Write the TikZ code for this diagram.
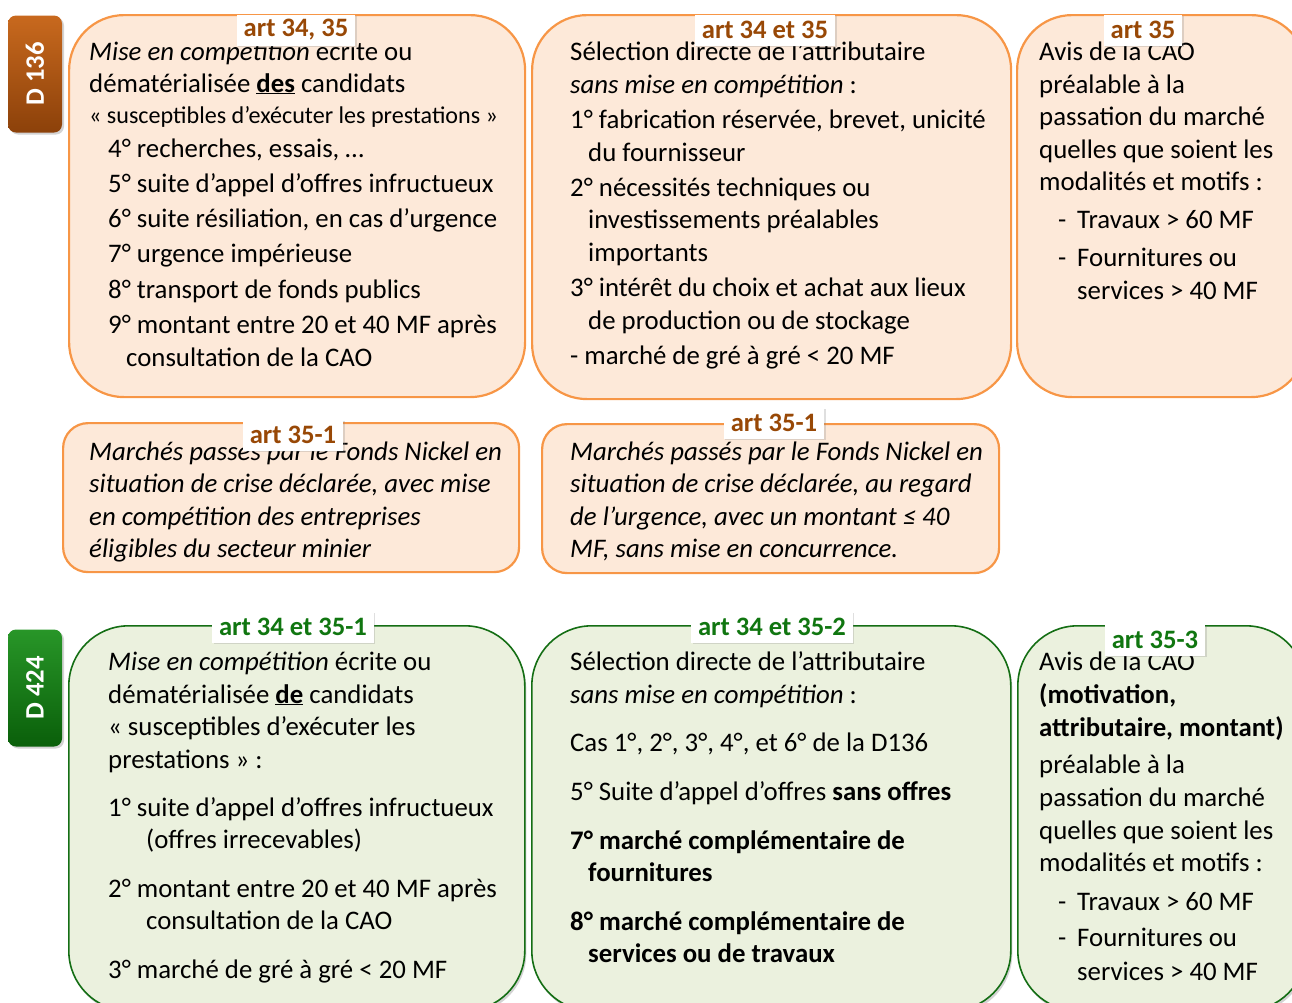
\documentclass[tikz,border=0pt]{standalone}
\usepackage{fontspec}
\setmainfont{Carlito}
\usetikzlibrary{shadows}
\definecolor{ocol}{RGB}{247,150,70}
\definecolor{ofill}{RGB}{253,233,217}
\definecolor{obrown}{RGB}{152,72,6}
\definecolor{gcol}{RGB}{20,110,20}
\definecolor{gfill}{RGB}{235,241,222}
\definecolor{gtxt}{RGB}{16,118,16}
\definecolor{tabbrA}{RGB}{200,105,30}
\definecolor{tabbrB}{RGB}{140,65,10}
\definecolor{tabgrA}{RGB}{40,150,40}
\definecolor{tabgrB}{RGB}{10,95,10}
\newcommand\bodyfs{\fontsize{26.8}{31}\selectfont}
\newcommand\smallfs{\fontsize{24.1}{28}\selectfont}
\newcommand\labfs{\fontsize{26.6}{30}\selectfont\bfseries}
\tikzset{
  obox/.style={draw=ocol, fill=ofill, line width=2.2pt, anchor=north west, inner sep=0pt},
  gbox/.style={draw=gcol, fill=gfill, line width=1.6pt, anchor=north west, inner sep=0pt,
     drop shadow={opacity=0.35, shadow xshift=1.5pt, shadow yshift=-3pt}},
  lab/.style={fill=white, inner xsep=7pt, inner ysep=0pt, minimum height=31pt, font=\labfs,
     drop shadow={opacity=0.25, shadow xshift=1.5pt, shadow yshift=-1.5pt}},
  olab/.style={lab, text=obrown},
  glab/.style={lab, text=gtxt},
  tl/.style={anchor=base west, inner sep=0pt, font=\bodyfs},
  tabbox/.style={rotate=90, rounded corners=8pt, text=white, font=\labfs,
     minimum width=117pt, minimum height=54pt, inner sep=0pt,
     drop shadow={opacity=0.35, shadow xshift=2pt, shadow yshift=-2pt}}
}
\begin{document}
\begin{tikzpicture}[x=1pt,y=-1pt]
\path[use as bounding box] (0,0) rectangle (1292,1002);
\clip (0,0) rectangle (1292,1002);

% tabs
\node[tabbox, top color=tabbrA, bottom color=tabbrB, shading angle=0] (d136) at (35,74) {D 136};
\node[tabbox, top color=tabgrA, bottom color=tabgrB] (d424) at (35,688) {D 424};

% top row
\node[obox, rounded corners=55pt, minimum width=456pt, minimum height=382pt] (A) at (68,14) {};
\node[obox, rounded corners=55pt, minimum width=479pt, minimum height=384pt] (B) at (531,14) {};
\node[obox, rounded corners=55pt, minimum width=289pt, minimum height=382pt] (C) at (1016,14) {};
% middle row
\node[obox, rounded corners=25pt, minimum width=456pt, minimum height=149pt] (D) at (62,422) {};
\node[obox, rounded corners=25pt, minimum width=457pt, minimum height=149pt] (E) at (541,423) {};
% bottom row
\node[gbox, rounded corners=60pt, minimum width=456pt, minimum height=385pt] (F) at (68,625) {};
\node[gbox, rounded corners=60pt, minimum width=479pt, minimum height=385pt] (G) at (531,625) {};
\node[gbox, rounded corners=60pt, minimum width=288pt, minimum height=385pt] (H) at (1017,625) {};

% Box A text
\node[tl] (a1) at (89,60) {\textit{Mise en compétition} écrite ou};
\node[tl] (a2) at (89,92) {dématérialisée \underline{\textbf{des}} candidats};
\node[tl, font=\smallfs] (a3) at (89,123) {« susceptibles d’exécuter les prestations »};
\node[tl] (a4) at (108,157) {4° recherches, essais, …};
\node[tl] (a5) at (108,192) {5° suite d’appel d’offres infructueux};
\node[tl] (a6) at (108,227) {6° suite résiliation, en cas d’urgence};
\node[tl] (a7) at (108,262) {7° urgence impérieuse};
\node[tl] (a8) at (108,298) {8° transport de fonds publics};
\node[tl] (a9) at (108,333) {9° montant entre 20 et 40 MF après};
\node[tl] (a10) at (126,366) {consultation de la CAO};

% Box B text
\node[tl] (b1) at (570,60) {Sélection directe de l’attributaire};
\node[tl] (b2) at (570,93) {\textit{sans mise en compétition} :};
\node[tl] (b3) at (570,128) {1° fabrication réservée, brevet, unicité};
\node[tl] (b4) at (588,161) {du fournisseur};
\node[tl] (b5) at (570,196) {2° nécessités techniques ou};
\node[tl] (b6) at (588,228) {investissements préalables};
\node[tl] (b7) at (588,261) {importants};
\node[tl] (b8) at (570,296) {3° intérêt du choix et achat aux lieux};
\node[tl] (b9) at (588,329) {de production ou de stockage};
\node[tl] (b10) at (570,364) {- marché de gré à gré < 20 MF};

% Box C text
\node[tl] (c1) at (1039,60) {Avis de la CAO};
\node[tl] (c2) at (1039,93) {préalable à la};
\node[tl] (c3) at (1039,125) {passation du marché};
\node[tl] (c4) at (1039,158) {quelles que soient les};
\node[tl] (c5) at (1039,190) {modalités et motifs :};
\node[tl] (c6) at (1058,228) {-};
\node[tl] (c7) at (1077,228) {Travaux > 60 MF};
\node[tl] (c8) at (1058,266) {-};
\node[tl] (c9) at (1077,266) {Fournitures ou};
\node[tl] (c10) at (1077,299) {services > 40 MF};

% Box D text
\node[tl] (d1) at (89,460) {\itshape Marchés passés par le Fonds Nickel en};
\node[tl] (d2) at (89,492) {\itshape situation de crise déclarée, avec mise};
\node[tl] (d3) at (89,525) {\itshape en compétition des entreprises};
\node[tl] (d4) at (89,557) {\itshape éligibles du secteur minier};

% Box E text
\node[tl] (e1) at (570,460) {\itshape Marchés passés par le Fonds Nickel en};
\node[tl] (e2) at (570,492) {\itshape situation de crise déclarée, au regard};
\node[tl] (e3) at (570,525) {\itshape de l’urgence, avec un montant ≤ 40};
\node[tl] (e4) at (570,557) {\itshape MF, sans mise en concurrence.};

% Box F text
\node[tl] (f1) at (108,670) {\textit{Mise en compétition} écrite ou};
\node[tl] (f2) at (108,703) {dématérialisée \underline{\textbf{de}} candidats};
\node[tl] (f3) at (108,735) {« susceptibles d’exécuter les};
\node[tl] (f4) at (108,768) {prestations » :};
\node[tl] (f5) at (108,816) {1° suite d’appel d’offres infructueux};
\node[tl] (f6) at (146,848) {(offres irrecevables)};
\node[tl] (f7) at (108,897) {2° montant entre 20 et 40 MF après};
\node[tl] (f8) at (146,929) {consultation de la CAO};
\node[tl] (f9) at (108,978) {3° marché de gré à gré < 20 MF};

% Box G text
\node[tl] (g1) at (570,670) {Sélection directe de l’attributaire};
\node[tl] (g2) at (570,703) {\textit{sans mise en compétition} :};
\node[tl] (g3) at (570,751) {Cas 1°, 2°, 3°, 4°, et 6° de la D136};
\node[tl] (g4) at (570,800) {5° Suite d’appel d’offres \textbf{sans offres}};
\node[tl] (g5) at (570,849) {\bfseries 7° marché complémentaire de};
\node[tl] (g6) at (588,881) {\bfseries fournitures};
\node[tl] (g7) at (570,930) {\bfseries 8° marché complémentaire de};
\node[tl] (g8) at (588,962) {\bfseries services ou de travaux};

% Box H text
\node[tl] (h1) at (1039,670) {Avis de la CAO};
\node[tl] (h2) at (1039,703) {\bfseries (motivation,};
\node[tl] (h3) at (1039,736) {\bfseries attributaire, montant)};
\node[tl] (h4) at (1039,773) {préalable à la};
\node[tl] (h5) at (1039,806) {passation du marché};
\node[tl] (h6) at (1039,839) {quelles que soient les};
\node[tl] (h7) at (1039,871) {modalités et motifs :};
\node[tl] (h8) at (1058,910) {-};
\node[tl] (h9) at (1077,910) {Travaux > 60 MF};
\node[tl] (h10) at (1058,946) {-};
\node[tl] (h11) at (1077,946) {Fournitures ou};
\node[tl] (h12) at (1077,980) {services > 40 MF};

% labels
\node[olab] (lA) at (296,30) {art 34, 35};
\node[olab] (lB) at (765,30) {art 34 et 35};
\node[olab] (lC) at (1143,30) {art 35};
\node[olab] (lD) at (293,435) {art 35-1};
\node[olab] (lE) at (774,423) {art 35-1};
\node[glab] (lF) at (293,627) {art 34 et 35-1};
\node[glab] (lG) at (772,627) {art 34 et 35-2};
\node[glab] (lH) at (1155,640) {art 35-3};
\end{tikzpicture}
\end{document}
